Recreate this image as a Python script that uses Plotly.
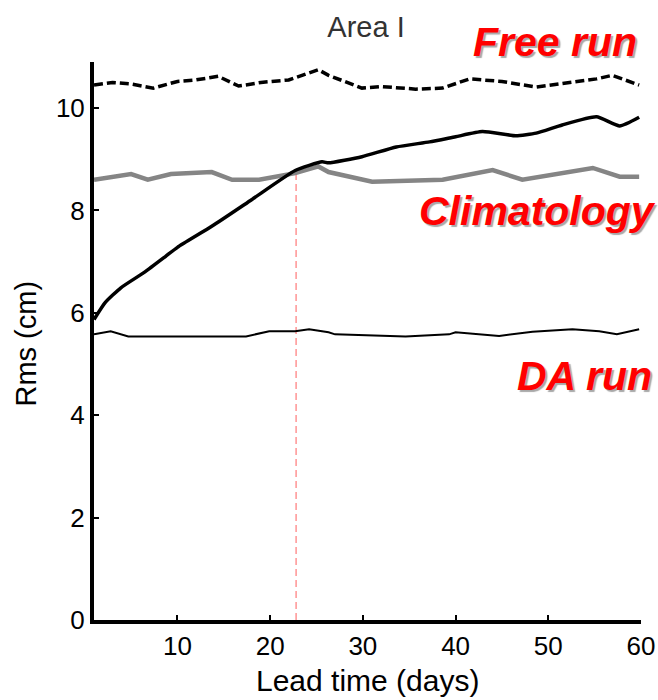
import plotly.graph_objects as go

# ---- data ----
free_days = [1, 3, 5, 7.4, 10, 12, 14.4, 16.6, 19, 22, 25.2, 26.3, 29.9, 32, 35.7, 38.6, 41.5, 45, 48.7, 52.3, 55.2, 56.9, 59.8]
free_rms = [10.45, 10.5, 10.47, 10.39, 10.52, 10.55, 10.62, 10.43, 10.5, 10.55, 10.75, 10.64, 10.39, 10.42, 10.37, 10.39, 10.57, 10.52, 10.41, 10.5, 10.57, 10.64, 10.45]

fc_days = [1, 2.2, 3.9, 6.5, 8.7, 10, 13.7, 18, 22.7, 25.6, 26.3, 29.9, 33.6, 37.2, 40, 42.9, 46.5, 48.7, 51.5, 55.2, 57.7, 59.8]
fc_rms = [5.87, 6.2, 6.49, 6.8, 7.1, 7.28, 7.69, 8.21, 8.78, 8.95, 8.93, 9.05, 9.24, 9.34, 9.44, 9.54, 9.46, 9.51, 9.67, 9.83, 9.65, 9.82]

clim_days = [1, 5, 6.8, 9.3, 13.7, 15.9, 18.8, 22.7, 25.2, 26.3, 31, 38.6, 44, 47.2, 54.8, 57.7, 59.8]
clim_rms = [8.6, 8.71, 8.6, 8.71, 8.75, 8.6, 8.6, 8.73, 8.86, 8.75, 8.56, 8.6, 8.79, 8.6, 8.83, 8.66, 8.66]

da_days = [1, 2.8, 4.7, 9.8, 13.7, 17.4, 19.9, 22.7, 24.2, 26.3, 27, 34.6, 39.3, 40, 44.7, 48.3, 52.6, 55.5, 57.4, 59.8]
da_rms = [5.58, 5.64, 5.54, 5.54, 5.54, 5.54, 5.64, 5.64, 5.68, 5.62, 5.58, 5.54, 5.58, 5.62, 5.55, 5.63, 5.68, 5.64, 5.58, 5.68]

crossover_day = 22.8
crossover_rms = 8.78

x_ticks = [10, 20, 30, 40, 50, 60]
y_ticks = [0, 2, 4, 6, 8, 10]

title_text = "Area I"
x_title = "Lead time (days)"
y_title = "Rms (cm)"
labels = ["Free run", "Climatology", "DA run"]

FONT = "Liberation Sans, Arial, Helvetica, sans-serif"

fig = go.Figure()

fig.add_trace(go.Scatter(x=[crossover_day, crossover_day], y=[0, crossover_rms], mode="lines",
                         line=dict(color="#ff9a9a", width=1.6, dash="7px,4px"), hoverinfo="skip"))
fig.add_trace(go.Scatter(x=clim_days, y=clim_rms, mode="lines", line=dict(color="#858585", width=4.5)))
fig.add_trace(go.Scatter(x=da_days, y=da_rms, mode="lines", line=dict(color="black", width=2)))
fig.add_trace(go.Scatter(x=free_days, y=free_rms, mode="lines", line=dict(color="black", width=3.5, dash="9px,4px")))
fig.add_trace(go.Scatter(x=fc_days, y=fc_rms, mode="lines",
                         line=dict(color="black", width=3.5, shape="spline", smoothing=0.5)))

axis_common = dict(showgrid=False, zeroline=False, showline=True, linecolor="black", linewidth=4,
                   ticks="inside", ticklen=5, tickwidth=2, tickcolor="black", automargin=False,
                   tickfont=dict(family=FONT, size=26, color="black"))

fig.update_xaxes(range=[1, 60], tickvals=x_ticks, ticklabeloverflow="allow", **axis_common)
fig.update_yaxes(range=[0, 10.9], tickvals=y_ticks, **axis_common)

ann = []
label_pos = [(0.997, 1.0367), (1.031, 0.733), (1.024, 0.4364)]
for txt, (px, py) in zip(labels, label_pos):
    ann.append(dict(text=txt, x=px, y=py, xref="paper", yref="paper",
                    xanchor="right", yanchor="middle", showarrow=False,
                    font=dict(family=FONT, size=41, color="#ff0000", weight="bold", style="italic",
                              shadow="2px 2px 1px #a8a8a8")))
# axis titles
ann.append(dict(text=x_title, x=0.5, y=-0.1093, xref="paper", yref="paper", showarrow=False,
                xanchor="center", yanchor="middle", font=dict(family=FONT, size=30, color="black")))
ann.append(dict(text=y_title, x=-0.1261, y=0.4955, xref="paper", yref="paper", showarrow=False,
                textangle=-90, xanchor="center", yanchor="middle",
                font=dict(family=FONT, size=29, color="black")))

W, H = 658, 700
fig.update_layout(
    width=W, height=H,
    margin=dict(l=94, r=17, t=62, b=80),
    paper_bgcolor="white", plot_bgcolor="white",
    showlegend=False,
    title=dict(text=title_text, x=366 / W, xanchor="center", y=1 - 27 / H, yanchor="middle",
               font=dict(family=FONT, size=29, color="#333333")),
    annotations=ann,
)

# remove the default page margin so the 658x700 figure fills the window exactly
fig.write_html("out.html", config={"displayModeBar": False},
               post_script="document.body.style.margin='0';")
